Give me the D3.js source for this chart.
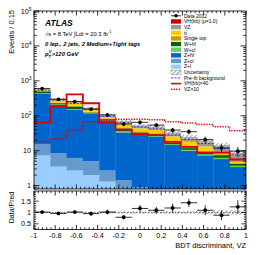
<!DOCTYPE html>
<html><head><meta charset="utf-8">
<script src="https://cdn.jsdelivr.net/npm/d3@7"></script>
<style>
body{margin:0;background:#fff;}
svg{display:block;font-family:"Liberation Sans",Arial,Helvetica,sans-serif;}
</style></head><body>
<svg id="c" width="266" height="255"></svg>
<script>
// ---------- data ----------
const nBins = 13, xMin = -1, xMax = 1;
const dataVals = [600, 296, 255, 155, 106, 58, 65, 54, 39, 35, 20.7, 12, 9.7];
const dataErr  = [24.5, 17.2, 16, 12.4, 10.3, 7.6, 8.1, 7.3, 6.2, 5.9, 4.5, 3.5, 3.1];
const Zl   = [7.3, 3.5, 2.7, 2.0, 1.3, 0.7, 0.5, 0.4, 0.3, 0.25, 0.2, 0.15, 0.1];
const Zcl  = [8.3, 5.0, 3.5, 3.0, 1.4, 0.7, 0.4, 0.3, 0.25, 0.2, 0.15, 0.1, 0.1];
const Zhf  = [422, 197, 141, 108, 72, 32, 28, 25, 14, 9.5, 7, 5.5, 3.2];
const Wcl  = [12, 6, 8, 3, 2, 3, 1.5, 1, 0.8, 0.6, 0.5, 0.5, 0.3];
const Whf  = [50, 18, 29, 8, 4, 7, 3, 3, 1.5, 1.3, 1, 1.2, 0.5];
const stop = [15, 8, 10, 6, 3, 3, 2.5, 2, 2, 1.2, 1, 0.5, 0.2];
const ttbar= [68, 60, 45, 25, 10, 15, 8, 8, 7, 5, 3.5, 1.2, 0.4];
const VZ   = [1.82, 2.16, 3.9, 6.75, 7.5, 8.0, 8.0, 7.7, 6.75, 6.2, 5.6, 4.85, 3.7];
const VH   = [1.6, 4.6, 10.3, 5.7, 1.6, 1.0, 0.75, 0.7, 0.45, 0.32, 0.22, 0.22, 0.14];
const prefit = [540, 280, 225, 150, 96, 62, 48, 42, 28, 21, 16, 11.5, 7.5];
const uncRel = [0.03, 0.03, 0.035, 0.04, 0.045, 0.05, 0.05, 0.06, 0.06, 0.07, 0.08, 0.09, 0.1];
const ratioVals = [1.02, 0.96, 1.02, 0.95, 1.02, 0.79, 1.18, 1.1, 1.2, 1.43, 1.1, 0.88, 1.25];
const ratioErr  = [0.04, 0.06, 0.065, 0.08, 0.1, 0.1, 0.15, 0.15, 0.19, 0.18, 0.22, 0.22, 0.3];
const xTickLabels = ["-1","-0.8","-0.6","-0.4","-0.2","0","0.2","0.4","0.6","0.8","1"];
const ratioTickLabels = ["0.5","1","1.5"];

const layers = [
  {key:"Zl",   vals:Zl,   color:"#99ccff", label:"Z+l"},
  {key:"Zcl",  vals:Zcl,  color:"#6699cc", label:"Z+cl"},
  {key:"Zhf",  vals:Zhf,  color:"#0066cc", label:"Z+hf"},
  {key:"Wcl",  vals:Wcl,  color:"#66cc66", label:"W+cl"},
  {key:"Whf",  vals:Whf,  color:"#006600", label:"W+hf"},
  {key:"stop", vals:stop, color:"#cc9900", label:"Single top"},
  {key:"tt",   vals:ttbar,color:"#ffcc00", label:"tt\u0304"},
  {key:"VZ",   vals:VZ,   color:"#999999", label:"VZ"},
  {key:"VH",   vals:VH,   color:"#cc0000", label:"VH(bb) (\u03bc=1.0)"}
];

// ---------- layout ----------
const L = 34, R = 246, mTop = 11, mBot = 189, rTop = 191, rBot = 229.5;
const svg = d3.select("#c");
const x = d3.scaleLinear().domain([xMin, xMax]).range([L, R]);
const y = d3.scaleLog().domain([0.8, 1e5]).range([mBot, mTop]).clamp(true);
const yr = d3.scaleLinear().domain([0.25, 1.95]).range([rBot, rTop]);
const edges = d3.range(nBins + 1).map(i => xMin + i * (xMax - xMin) / nBins);
const centers = d3.range(nBins).map(i => (edges[i] + edges[i+1]) / 2);

// defs
const defs = svg.append("defs");
const pat = defs.append("pattern").attr("id","hatch").attr("patternUnits","userSpaceOnUse")
  .attr("width",3).attr("height",3).attr("patternTransform","rotate(45)");
pat.append("rect").attr("width",3).attr("height",3).attr("fill","rgba(255,255,255,0.35)");
pat.append("line").attr("x1",0).attr("y1",0).attr("x2",0).attr("y2",3).attr("stroke","#666").attr("stroke-width",1.2);
defs.append("clipPath").attr("id","clipM").append("rect").attr("x",L).attr("y",mTop).attr("width",R-L).attr("height",mBot-mTop);
defs.append("clipPath").attr("id","clipR").append("rect").attr("x",L).attr("y",rTop).attr("width",R-L).attr("height",rBot-rTop);

// ---------- stack ----------
const table = d3.range(nBins).map(i => { const o = {i}; layers.forEach(l => o[l.key] = l.vals[i]); return o; });
const stacked = d3.stack().keys(layers.map(l => l.key))(table);
const gM = svg.append("g").attr("clip-path","url(#clipM)");
stacked.forEach((s, li) => {
  gM.append("g").selectAll("rect").data(s).join("rect")
    .attr("x", (d, i) => x(edges[i]))
    .attr("width", (d, i) => x(edges[i+1]) - x(edges[i]) + 0.3)
    .attr("y", d => y(d[1]))
    .attr("height", d => Math.max(0, y(Math.max(d[0], 0.01)) - y(d[1])))
    .attr("fill", layers[li].color);
});
const totals = d3.range(nBins).map(i => stacked[stacked.length-1][i][1]);

// uncertainty hatch
gM.append("g").selectAll("rect").data(totals).join("rect")
  .attr("x", (d, i) => x(edges[i])).attr("width", (d, i) => x(edges[i+1]) - x(edges[i]))
  .attr("y", (d, i) => y(d * (1 + uncRel[i]*2)))
  .attr("height", (d, i) => y(d * (1 - uncRel[i]*2)) - y(d * (1 + uncRel[i]*2)))
  .attr("fill","url(#hatch)");

// step line helper
function stepPts(vals){ const p = []; vals.forEach((v,i)=>{ p.push([edges[i], v]); p.push([edges[i+1], v]); }); return p; }
const stepLine = d3.line().x(d => x(d[0])).y(d => y(d[1]));
gM.append("path").attr("d", stepLine(stepPts(prefit))).attr("fill","none")
  .attr("stroke","#2222ff").attr("stroke-width",0.9).attr("stroke-dasharray","2,1.5");
gM.append("path").attr("d", stepLine(stepPts(VH.map(v => v*40)))).attr("fill","none")
  .attr("stroke","#dd0000").attr("stroke-width",1.8);
gM.append("path").attr("d", stepLine(stepPts(VZ.map(v => v*10)))).attr("fill","none")
  .attr("stroke","#dd0000").attr("stroke-width",1.5).attr("stroke-dasharray","1.3,1.3");

// data points
const gD = gM.append("g");
dataVals.forEach((v, i) => {
  gD.append("line").attr("x1", x(edges[i])).attr("x2", x(edges[i+1])).attr("y1", y(v)).attr("y2", y(v)).attr("stroke","#000").attr("stroke-width",0.8);
  gD.append("line").attr("x1", x(centers[i])).attr("x2", x(centers[i])).attr("y1", y(v - dataErr[i])).attr("y2", y(v + dataErr[i])).attr("stroke","#000").attr("stroke-width",0.8);
  gD.append("circle").attr("cx", x(centers[i])).attr("cy", y(v)).attr("r", 1.9).attr("fill","#000");
});

// ---------- ratio panel ----------
const gR = svg.append("g").attr("clip-path","url(#clipR)");
gR.append("g").selectAll("rect").data(uncRel).join("rect")
  .attr("x", (d, i) => x(edges[i])).attr("width", (d, i) => x(edges[i+1]) - x(edges[i]) + 0.3)
  .attr("y", d => yr(1 + d)).attr("height", d => yr(1 - d) - yr(1 + d))
  .attr("fill","url(#hatch)");
gR.append("line").attr("x1", L).attr("x2", R).attr("y1", yr(1)).attr("y2", yr(1))
  .attr("stroke","#555").attr("stroke-width",0.8).attr("stroke-dasharray","1.5,1.5");
ratioVals.forEach((v, i) => {
  gR.append("line").attr("x1", x(edges[i])).attr("x2", x(edges[i+1])).attr("y1", yr(v)).attr("y2", yr(v)).attr("stroke","#000").attr("stroke-width",0.8);
  gR.append("line").attr("x1", x(centers[i])).attr("x2", x(centers[i])).attr("y1", yr(v - ratioErr[i])).attr("y2", yr(v + ratioErr[i])).attr("stroke","#000").attr("stroke-width",0.8);
  gR.append("circle").attr("cx", x(centers[i])).attr("cy", yr(v)).attr("r", 1.9).attr("fill","#000");
});

// ---------- frames & ticks ----------
const gA = svg.append("g").attr("stroke","#000").attr("stroke-width",0.8);
gA.append("rect").attr("x",L).attr("y",mTop).attr("width",R-L).attr("height",mBot-mTop).attr("fill","none");
gA.append("rect").attr("x",L).attr("y",rTop).attr("width",R-L).attr("height",rBot-rTop).attr("fill","none");
// x ticks
const xMinor = d3.range(0, 51).map(k => xMin + k * 0.04);
[[mTop, mBot], [rTop, rBot]].forEach(([t, b]) => {
  xMinor.forEach((v, k) => {
    const len = (k % 5 === 0) ? 4.5 : 2.2;
    gA.append("line").attr("x1", x(v)).attr("x2", x(v)).attr("y1", b).attr("y2", b - len);
    gA.append("line").attr("x1", x(v)).attr("x2", x(v)).attr("y1", t).attr("y2", t + len);
  });
});
// log y ticks
for (let e = -1; e < 5; e++) {
  for (let m = 1; m < 10; m++) {
    const v = m * Math.pow(10, e);
    if (v < 0.8 || v > 1e5) continue;
    const len = m === 1 ? 5.5 : 2.8;
    gA.append("line").attr("x1", L).attr("x2", L + len).attr("y1", y(v)).attr("y2", y(v));
    gA.append("line").attr("x1", R).attr("x2", R - len).attr("y1", y(v)).attr("y2", y(v));
  }
}
gA.append("line").attr("x1", L).attr("x2", L + 5.5).attr("y1", y(1e5)).attr("y2", y(1e5));
// ratio y ticks
d3.range(3, 20).map(k => k / 10).forEach(v => {
  const major = Math.abs(v*2 - Math.round(v*2)) < 1e-6;
  const len = major ? 4.5 : 2.2;
  gA.append("line").attr("x1", L).attr("x2", L + len).attr("y1", yr(v)).attr("y2", yr(v));
  gA.append("line").attr("x1", R).attr("x2", R - len).attr("y1", yr(v)).attr("y2", yr(v));
});

// ---------- labels ----------
const T = svg.append("g").attr("fill","#000");
xTickLabels.forEach(s => {
  T.append("text").attr("x", x(+s)).attr("y", 238).attr("text-anchor","middle").attr("font-size",7.2).text(s);
});
[1e5, 1e4, 1e3, 1e2].forEach(v => {
  const t = T.append("text").attr("x", 31.5).attr("y", y(v) + 2.5).attr("text-anchor","end").attr("font-size",7.2);
  t.append("tspan").text("10");
  t.append("tspan").attr("dy",-3).attr("font-size",5).text(String(Math.round(Math.log10(v))));
});
T.append("text").attr("x", 31).attr("y", y(10) + 2.5).attr("text-anchor","end").attr("font-size",7.2).text("10");
T.append("text").attr("x", 31).attr("y", y(1) + 2.5).attr("text-anchor","end").attr("font-size",7.2).text("1");
ratioTickLabels.forEach(s => {
  T.append("text").attr("x", 31).attr("y", yr(+s) + 2.5).attr("text-anchor","end").attr("font-size",7.2).text(s);
});
T.append("text").attr("transform","translate(14,10) rotate(-90)").attr("text-anchor","end").attr("font-size",7.5).text("Events / 0.15");
T.append("text").attr("transform","translate(14,207.5) rotate(-90)").attr("text-anchor","middle").attr("font-size",7).text("Data/Pred");
T.append("text").attr("x", R).attr("y", 248).attr("text-anchor","end").attr("font-size",7.5).text("BDT discriminant, VZ");

// ATLAS labels
T.append("text").attr("x",45).attr("y",25.5).attr("font-size",8.5).attr("font-weight","bold").attr("font-style","italic").text("ATLAS");
const t2 = T.append("text").attr("x",45).attr("y",35.5).attr("font-size",5.8);
t2.append("tspan").text("\u221As = 8 TeV  \u222BLdt = 20.3 fb");
t2.append("tspan").attr("dy",-2.2).attr("font-size",4).text("-1");
T.append("text").attr("x",45).attr("y",45.5).attr("font-size",5.9).attr("font-weight","bold").attr("font-style","italic").text("0 lep., 2 jets, 2 Medium+Tight tags");
const t4 = T.append("text").attr("x",45).attr("y",56).attr("font-size",5.9).attr("font-weight","bold").attr("font-style","italic");
t4.append("tspan").text("p");
t4.append("tspan").attr("dy",1.8).attr("font-size",4.2).text("T");
t4.append("tspan").attr("dx",-2.3).attr("dy",-4.4).attr("font-size",4.2).text("V");
t4.append("tspan").attr("dy",2.6).text(">120 GeV");

// ---------- legend ----------
const lg = svg.append("g");
const lx = 171, lw = 10, ltx = 184, ly0 = 15.8, ldy = 5.65;
const legendRows = [
  {type:"data", label:"Data 2012"},
  ...layers.slice().reverse().map(l => ({type:"box", color:l.color, label:l.label})),
  {type:"hatch", label:"Uncertainty"},
  {type:"prefit", label:"Pre-fit background"},
  {type:"vh40", label:"VH(bb)\u00d740"},
  {type:"vz10", label:"VZ\u00d710"}
];
legendRows.forEach((r, i) => {
  const cy = ly0 + i * ldy;
  if (r.type === "data") {
    lg.append("line").attr("x1",lx).attr("x2",lx+lw).attr("y1",cy).attr("y2",cy).attr("stroke","#000").attr("stroke-width",0.8);
    lg.append("circle").attr("cx",lx+lw/2).attr("cy",cy).attr("r",1.7).attr("fill","#000");
  } else if (r.type === "box") {
    lg.append("rect").attr("x",lx).attr("y",cy-2.2).attr("width",lw).attr("height",4.4).attr("fill",r.color);
  } else if (r.type === "hatch") {
    lg.append("rect").attr("x",lx).attr("y",cy-2.2).attr("width",lw).attr("height",4.4).attr("fill","url(#hatch)").attr("stroke","#666").attr("stroke-width",0.4);
  } else if (r.type === "prefit") {
    lg.append("line").attr("x1",lx).attr("x2",lx+lw).attr("y1",cy).attr("y2",cy).attr("stroke","#2222ff").attr("stroke-width",0.9).attr("stroke-dasharray","2,1.5");
  } else if (r.type === "vh40") {
    lg.append("line").attr("x1",lx).attr("x2",lx+lw).attr("y1",cy).attr("y2",cy).attr("stroke","#dd0000").attr("stroke-width",1.6);
  } else {
    lg.append("line").attr("x1",lx).attr("x2",lx+lw).attr("y1",cy).attr("y2",cy).attr("stroke","#dd0000").attr("stroke-width",1.4).attr("stroke-dasharray","1.3,1.3");
  }
  lg.append("text").attr("x",ltx).attr("y",cy+1.8).attr("font-size",5).text(r.label);
});
</script>
</body></html>
